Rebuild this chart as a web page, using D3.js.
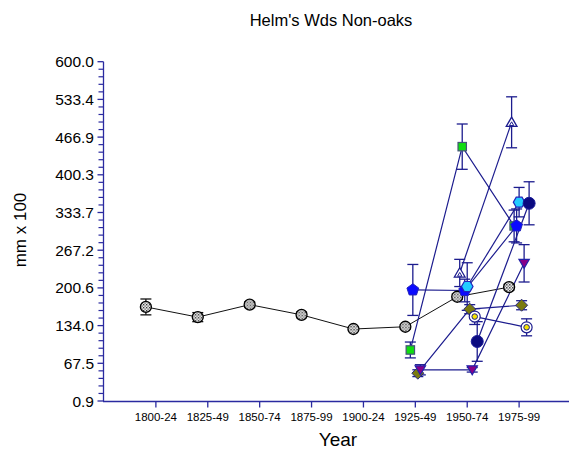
<!DOCTYPE html>
<html><head><meta charset="utf-8">
<script src="https://cdn.jsdelivr.net/npm/d3@7"></script>
<style>body{margin:0;background:#fff} svg{display:block} text{font-family:Arial,"Liberation Sans",sans-serif;fill:#000}</style>
</head><body><svg id="c" width="569" height="453"></svg>
<script>
// ---------- DATA ----------
const categories = ["1800-24","1825-49","1850-74","1875-99","1900-24","1925-49","1950-74","1975-99"];
const yTickValues = [0.9,67.467,134.033,200.6,267.167,333.733,400.3,466.867,533.433,600.0];
const yTickLabels = ["0.9","67.5","134.0","200.6","267.2","333.7","400.3","466.9","533.4","600.0"];

const blackCats = ["1800-24","1825-49","1850-74","1875-99","1900-24","1925-49","1950-74","1975-99"];
const blackVals = [167,149,171,153,128,132,185,202];
const blackErr  = [14,8,5,5,3,4,5,5];

const triCats = ["1950-74","1975-99"];
const triVals = [227,493];
const triErr  = [24,45];

const greenCats = ["1925-49","1950-74","1975-99"];
const greenVals = [91,450,310];
const greenErr  = [14,40,28];

const pentCats = ["1925-49","1950-74","1975-99"];
const pentVals = [197,196,310];
const pentErr  = [45,20,30];

const cyanCats = ["1950-74","1975-99"];
const cyanVals = [203,352];
const cyanErr  = [42,26];

const oliveCats = ["1925-49","1950-74","1975-99"];
const oliveVals = [50,163,170];
const oliveErr  = [6,8,8];

const purpleCats = ["1925-49","1950-74","1975-99"];
const purpleVals = [56,56,244];
const purpleErr  = [9,4,33];

const yellowCats = ["1950-74","1975-99"];
const yellowVals = [150,131];
const yellowErr  = [14,15];

const darkCats = ["1950-74","1975-99"];
const darkVals = [106,350];
const darkErr  = [35,38];

// ---------- SETUP ----------
const svg = d3.select("#c");
const NAVY = "#1c1c8e";
const AX = "#2a2aa0";

const x = d3.scaleLinear().domain([-1, 8]).range([104, 571]);
const y = d3.scaleLinear().domain([0.9, 600]).range([401, 61.7]);
const ci = c => categories.indexOf(c);

const defs = svg.append("defs");
const pat = defs.append("pattern").attr("id","hatch").attr("patternUnits","userSpaceOnUse")
  .attr("width",3).attr("height",3);
pat.append("rect").attr("width",3).attr("height",3).attr("fill","#fff");
pat.append("rect").attr("width",1.4).attr("height",1.4).attr("fill","#222");
pat.append("rect").attr("x",1.5).attr("y",1.5).attr("width",1.3).attr("height",1.3).attr("fill","#444");

function poly(n, r, rot) {
  const pts = d3.range(n).map(i => {
    const a = rot + i * 2 * Math.PI / n;
    return [r * Math.sin(a), -r * Math.cos(a)];
  });
  return "M" + pts.map(p => p.join(",")).join("L") + "Z";
}

const series = [
  {cats: blackCats, vals: blackVals, err: blackErr, off: -10, line: "#111", ebar: "#111",
   draw: g => g.append("circle").attr("r",5.5).attr("fill","url(#hatch)").attr("stroke","#000").attr("stroke-width",1.3)},
  {cats: triCats, vals: triVals, err: triErr, off: -7.5, line: NAVY, ebar: NAVY,
   draw: g => { g.append("path").attr("d", poly(3,6.2,0)).attr("transform","translate(0,1)").attr("fill","#fff").attr("stroke",NAVY).attr("stroke-width",1.3);
                g.append("path").attr("d", poly(3,2.5,0)).attr("transform","translate(0,2)").attr("fill","none").attr("stroke",NAVY).attr("stroke-width",1);}},
  {cats: greenCats, vals: greenVals, err: greenErr, off: -5, line: NAVY, ebar: NAVY,
   draw: g => g.append("rect").attr("x",-4.2).attr("y",-4.2).attr("width",8.4).attr("height",8.4).attr("fill","#11dd11").attr("stroke","#445577").attr("stroke-width",1.2)},
  {cats: pentCats, vals: pentVals, err: pentErr, off: -2.5, line: NAVY, ebar: NAVY,
   draw: g => g.append("path").attr("d", poly(5,6.2,0)).attr("fill","#0a0aff").attr("stroke","#2222bb").attr("stroke-width",1)},
  {cats: cyanCats, vals: cyanVals, err: cyanErr, off: 0, line: NAVY, ebar: NAVY,
   draw: g => g.append("path").attr("d", poly(6,5.8,Math.PI/6)).attr("fill","#22ccff").attr("stroke","#2222bb").attr("stroke-width",1.2)},
  {cats: oliveCats, vals: oliveVals, err: oliveErr, off: 2.5, line: NAVY, ebar: NAVY,
   draw: g => g.append("path").attr("d", poly(4,6,0)).attr("fill","#7a7a10").attr("stroke","#2a2a80").attr("stroke-width",1)},
  {cats: purpleCats, vals: purpleVals, err: purpleErr, off: 5, line: NAVY, ebar: NAVY,
   draw: g => g.append("path").attr("d", poly(3,6,Math.PI)).attr("transform","translate(0,-1)").attr("fill","#880088").attr("stroke","#2222aa").attr("stroke-width",1.2)},
  {cats: yellowCats, vals: yellowVals, err: yellowErr, off: 7.5, line: NAVY, ebar: NAVY,
   draw: g => { g.append("circle").attr("r",5.5).attr("fill","#fff").attr("stroke",NAVY).attr("stroke-width",1.2);
                g.append("circle").attr("r",2.8).attr("fill","#f5e400").attr("stroke",NAVY).attr("stroke-width",1);}},
  {cats: darkCats, vals: darkVals, err: darkErr, off: 10, line: NAVY, ebar: NAVY,
   draw: g => g.append("circle").attr("r",6).attr("fill","#0a0a80").attr("stroke","#1a1a99").attr("stroke-width",1)}
];

series.forEach(s => {
  s.pts = s.cats.map((c, i) => ({px: x(ci(c)) + s.off, v: s.vals[i], e: s.err[i]}));
});

// ---------- AXES ----------
const yAxisG = svg.append("g").attr("transform","translate(103.5,0)");
yAxisG.append("line").attr("y1", y(600)).attr("y2", y(0.9)).attr("stroke", AX).attr("stroke-width",1.3);
const minorVals = [];
for (let k = 0; k < yTickValues.length - 1; k++) {
  const step = (yTickValues[k+1] - yTickValues[k]) / 5;
  for (let j = 1; j < 5; j++) minorVals.push(yTickValues[k] + j * step);
}
yAxisG.selectAll(".mn").data(minorVals).join("line")
  .attr("x1",-5).attr("x2",0).attr("y1",d=>y(d)).attr("y2",d=>y(d)).attr("stroke",AX).attr("stroke-width",1.2);
yAxisG.selectAll(".mj").data(yTickValues).join("line")
  .attr("x1",-6).attr("x2",0).attr("y1",d=>y(d)).attr("y2",d=>y(d)).attr("stroke",AX).attr("stroke-width",1.3);
yAxisG.selectAll(".lb").data(yTickValues).join("text")
  .attr("x",-9.5).attr("y",d=>y(d)).attr("dy","0.36em").attr("text-anchor","end")
  .style("font-size","15.5px").text((d,i)=>yTickLabels[i]);

const xAxisG = svg.append("g").attr("transform","translate(0,401.5)");
xAxisG.append("line").attr("x1",103).attr("x2",569).attr("stroke",AX).attr("stroke-width",1.3);
xAxisG.selectAll(".xt").data(categories).join("line")
  .attr("x1",(d,i)=>x(i)).attr("x2",(d,i)=>x(i)).attr("y1",0).attr("y2",6).attr("stroke",AX).attr("stroke-width",1.3);
xAxisG.selectAll(".xl").data(categories).join("text")
  .attr("x",(d,i)=>x(i)).attr("y",19).attr("text-anchor","middle").style("font-size","11.5px").text(d=>d);

svg.append("text").attr("x",331).attr("y",26).attr("text-anchor","middle").style("font-size","16.5px").text("Helm's Wds Non-oaks");
svg.append("text").attr("transform","translate(26,230) rotate(-90)").attr("text-anchor","middle").style("font-size","17px").text("mm x 100");
svg.append("text").attr("x",338).attr("y",446).attr("text-anchor","middle").style("font-size","19px").text("Year");

// ---------- MARKS ----------
const line = d3.line().x(d=>d.px).y(d=>y(d.v));
series.forEach(s => {
  svg.append("path").datum(s.pts).attr("d", line).attr("fill","none")
    .attr("stroke", s.line).attr("stroke-width", s.line === NAVY ? 1.2 : 1);
});
series.forEach(s => {
  const g = svg.append("g").attr("stroke", s.ebar).attr("stroke-width",1.3);
  s.pts.forEach(p => {
    g.append("line").attr("x1",p.px).attr("x2",p.px).attr("y1",y(p.v+p.e)).attr("y2",y(p.v-p.e));
    g.append("line").attr("x1",p.px-5.5).attr("x2",p.px+5.5).attr("y1",y(p.v+p.e)).attr("y2",y(p.v+p.e));
    g.append("line").attr("x1",p.px-5.5).attr("x2",p.px+5.5).attr("y1",y(p.v-p.e)).attr("y2",y(p.v-p.e));
  });
});
series.forEach(s => {
  s.pts.forEach(p => {
    const g = svg.append("g").attr("transform",`translate(${p.px},${y(p.v)})`);
    s.draw(g);
  });
});
</script></body></html>
